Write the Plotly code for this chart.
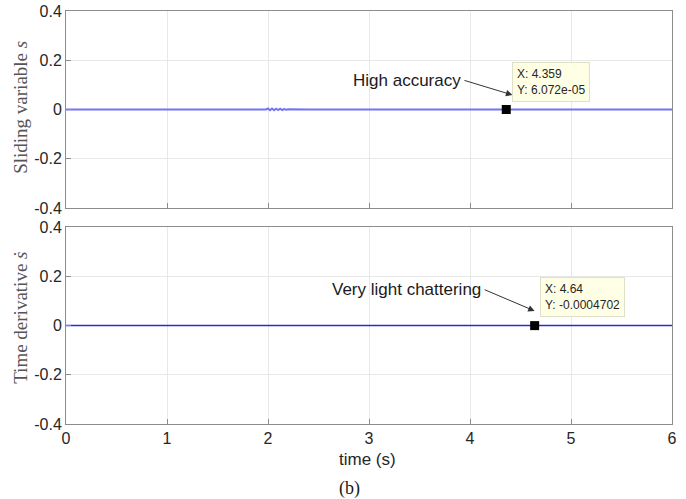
import plotly.graph_objects as go

# ---- data ----
t_s = [0, 1.98, 2.0, 2.02, 2.04, 2.06, 2.08, 2.10, 2.12, 2.14, 2.16, 2.18, 2.20, 2.40, 6.0]
s_vals = [0, 0, 0.004, -0.003, 0.004, -0.003, 0.003, -0.002, 0.003, -0.002, 0.002, -0.001, 0.001, 0, 0]
t_ds = [0, 1.0, 2.0, 3.0, 4.0, 5.0, 6.0]
ds_vals = [0, 0, 0, 0, 0, 0, 0]
tip_top = (4.359, 6.072e-05)
tip_bot = (4.64, -0.0004702)
x_ticks = [0, 1, 2, 3, 4, 5, 6]
y_ticks = [-0.4, -0.2, 0, 0.2, 0.4]
y_ticklabels = ["-0.4", "-0.2", "0", "0.2", "0.4"]

fig = go.Figure()
fig.add_trace(go.Scatter(x=t_s, y=s_vals, mode="lines", line=dict(color="#7474f0", width=2),
                         xaxis="x", yaxis="y", showlegend=False))
fig.add_trace(go.Scatter(x=[tip_top[0]], y=[tip_top[1]], mode="markers",
                         marker=dict(symbol="square", color="black", size=9),
                         xaxis="x", yaxis="y", showlegend=False))
fig.add_trace(go.Scatter(x=t_ds, y=ds_vals, mode="lines", line=dict(color="#2a2ad8", width=1.5),
                         xaxis="x2", yaxis="y2", showlegend=False))
fig.add_trace(go.Scatter(x=[tip_bot[0]], y=[tip_bot[1]], mode="markers",
                         marker=dict(symbol="square", color="black", size=9),
                         xaxis="x2", yaxis="y2", showlegend=False))

axcol = "#8c8c8c"
gridcol = "#e8e8e8"
tickfont = dict(family="Liberation Sans, Arial", size=16, color="#262626")
common_x = dict(range=[0, 6], tickvals=x_ticks, showgrid=True, gridcolor=gridcol, zeroline=False,
                showline=True, linecolor=axcol, mirror=True, ticks="inside", ticklen=5,
                tickcolor=axcol, tickfont=tickfont, automargin=False)
common_y = dict(range=[-0.4, 0.4], tickvals=y_ticks, ticktext=y_ticklabels, showgrid=True,
                gridcolor=gridcol, zeroline=False, showline=True, linecolor=axcol, mirror=True,
                ticks="inside", ticklen=5, tickcolor=axcol, tickfont=tickfont, automargin=False)

fig.update_layout(
    width=686, height=499,
    margin=dict(l=66, r=14, t=11, b=75),
    paper_bgcolor="white", plot_bgcolor="white",
    xaxis=dict(common_x, domain=[0, 1], anchor="y", showticklabels=False),
    yaxis=dict(common_y, domain=[0.523, 1], anchor="x"),
    xaxis2=dict(common_x, domain=[0, 1], anchor="y2"),
    yaxis2=dict(common_y, domain=[0, 0.477], anchor="x2"),
)

serif = "Liberation Serif, Times New Roman"
sans = "Liberation Sans, Arial"

# axis titles
fig.add_annotation(x=-0.0743, y=0.768, xref="paper", yref="paper", text="Sliding variable <i>s</i>",
                   textangle=-90, showarrow=False, xanchor="center", yanchor="middle",
                   font=dict(family=serif, size=19, color="#555555"))
fig.add_annotation(x=-0.0743, y=0.257, xref="paper", yref="paper", text="Time derivative <i>ṡ</i>",
                   textangle=-90, showarrow=False, xanchor="center", yanchor="middle",
                   font=dict(family=serif, size=19, color="#555555"))
fig.add_annotation(x=0.498, y=-0.087, xref="paper", yref="paper", text="time (s)",
                   showarrow=False, xanchor="center", yanchor="middle",
                   font=dict(family=sans, size=17, color="#262626"))

annfont = dict(family=sans, size=17, color="#1a1a1a")
tipfont = dict(family=sans, size=12, color="#262626")

# top panel annotations
fig.add_annotation(x=3.93, y=0.116, xref="x", yref="y", text="High accuracy", showarrow=False,
                   xanchor="right", yanchor="middle", font=annfont)
fig.add_annotation(x=4.42, y=0.059, ax=3.93, ay=0.12, xref="x", yref="y", axref="x", ayref="y",
                   text="", showarrow=True, arrowhead=2, arrowsize=1.3, arrowwidth=1, arrowcolor="#333333")
fig.add_annotation(x=4.416, y=0.193, xref="x", yref="y",
                   text="X: 4.359<br>Y: 6.072e-05", showarrow=False, xanchor="left", yanchor="top",
                   align="left", font=tipfont, bgcolor="#ffffe6", bordercolor="#e0e0c8", borderwidth=1,
                   borderpad=4)

# bottom panel annotations
fig.add_annotation(x=4.13, y=0.148, xref="x2", yref="y2", text="Very light chattering", showarrow=False,
                   xanchor="right", yanchor="middle", font=annfont)
fig.add_annotation(x=4.64, y=0.059, ax=4.13, ay=0.148, xref="x2", yref="y2", axref="x2", ayref="y2",
                   text="", showarrow=True, arrowhead=2, arrowsize=1.3, arrowwidth=1, arrowcolor="#333333")
fig.add_annotation(x=4.693, y=0.197, xref="x2", yref="y2",
                   text="X: 4.64<br>Y: -0.0004702", showarrow=False, xanchor="left", yanchor="top",
                   align="left", font=tipfont, bgcolor="#ffffe6", bordercolor="#e0e0c8", borderwidth=1,
                   borderpad=4)

# caption
fig.add_annotation(x=0.4686, y=-0.155, xref="paper", yref="paper", text="(b)", showarrow=False,
                   xanchor="center", yanchor="middle",
                   font=dict(family=serif, size=18, color="#1a1a1a"))

fig.write_html("out.html", config={"displayModeBar": False},
               post_script="document.body.style.margin='0px';document.body.style.overflow='hidden';")
